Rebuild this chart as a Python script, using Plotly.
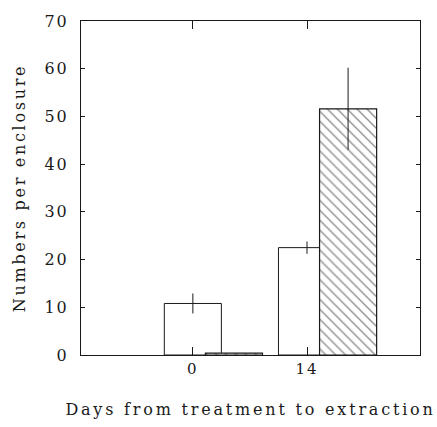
import plotly.graph_objects as go

days = ["0", "14"]
control = [10.8, 22.5]
control_err = [2.1, 1.3]
treated = [0.4, 51.6]
treated_err = [0.0, 8.6]
y_ticks = [0, 10, 20, 30, 40, 50, 60, 70]

pos = [i + 1 for i in range(len(days))]
FONT = "DejaVu Serif, serif"
INK = "#1a1a1a"

def spaced(t, s):
    return f'<span style="letter-spacing:{s}px">{t}</span>'

fig = go.Figure()
fig.add_trace(go.Bar(
    x=pos, y=control, width=0.5, offset=-0.25,
    marker=dict(color="white", line=dict(color=INK, width=1)),
    error_y=dict(type="data", array=control_err, color=INK, thickness=1, width=0),
    showlegend=False,
))
fig.add_trace(go.Bar(
    x=pos, y=treated, width=0.5, offset=0.11,
    marker=dict(color="white", line=dict(color=INK, width=1.2),
                pattern=dict(shape="\\", size=7, solidity=0.2, fgcolor="#222222",
                             fillmode="overlay")),
    error_y=dict(type="data", array=treated_err, color=INK, thickness=1, width=0),
    showlegend=False,
))

fig.update_layout(
    width=437, height=427,
    margin=dict(l=81, r=17, t=15, b=72),
    paper_bgcolor="white", plot_bgcolor="white",
    barmode="overlay",
    font=dict(family=FONT, size=16, color=INK),
    xaxis=dict(
        range=[0.02, 2.99], tickvals=pos, ticktext=[spaced(d, 2) for d in days],
        ticks="inside", ticklen=8, tickcolor=INK, showline=True, linecolor=INK,
        linewidth=1, mirror="ticks", showgrid=False, zeroline=False,
        tickfont=dict(family=FONT, size=15),
        title=dict(text=spaced("Days from treatment to extraction", 2.8),
                   font=dict(family=FONT, size=16), standoff=26),
    ),
    yaxis=dict(
        range=[0, 70], tickvals=y_ticks, ticktext=[spaced(str(v), 2) for v in y_ticks],
        ticks="inside", ticklen=4, tickcolor=INK, showline=True, linecolor=INK,
        linewidth=1, mirror="ticks", showgrid=False, zeroline=False,
        tickfont=dict(family=FONT, size=16), ticklabelstandoff=8,
        title=dict(text=spaced("Numbers per enclosure", 2.7),
                   font=dict(family=FONT, size=16), standoff=14),
    ),
)

fig.write_html("out.html")
